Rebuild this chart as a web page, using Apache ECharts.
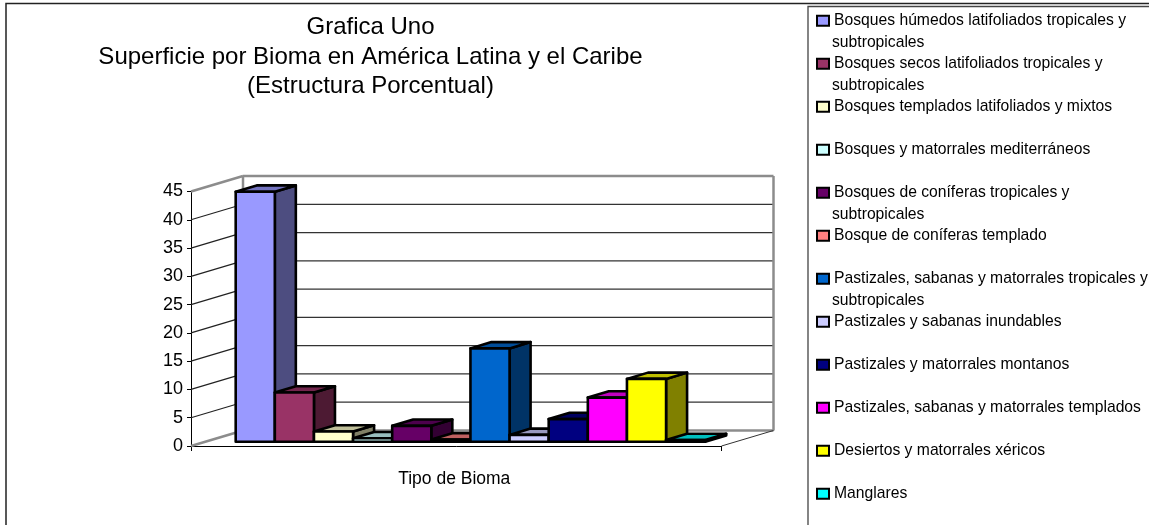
<!DOCTYPE html>
<html>
<head>
<meta charset="utf-8">
<title>Superficie por Bioma</title>
<style>
  html, body { margin: 0; padding: 0; background: #fff; }
  #chart { width: 1149px; height: 525px; }
</style>
<script src="https://cdn.jsdelivr.net/npm/echarts@6/dist/echarts.min.js"></script>
</head>
<body>
<div id="chart"></div>
<script>
var titleLines = ['Grafica Uno', 'Superficie por Bioma en América Latina y el Caribe', '(Estructura Porcentual)']
var category = ['Tipo de Bioma']
var biomas = [
  ['Bosques húmedos latifoliados tropicales y', 'subtropicales'],
  ['Bosques secos latifoliados tropicales y', 'subtropicales'],
  ['Bosques templados latifoliados y mixtos'],
  ['Bosques y matorrales mediterráneos'],
  ['Bosques de coníferas tropicales y', 'subtropicales'],
  ['Bosque de coníferas templado'],
  ['Pastizales, sabanas y matorrales tropicales y', 'subtropicales'],
  ['Pastizales y sabanas inundables'],
  ['Pastizales y matorrales montanos'],
  ['Pastizales, sabanas y matorrales templados'],
  ['Desiertos y matorrales xéricos'],
  ['Manglares']
]
var valores = [44.2, 8.7, 1.8, 0.6, 2.8, 0.4, 16.5, 1.2, 4, 7.8, 11.1, 0.3]
var colores = ['#9999FF', '#993366', '#FFFFCC', '#CCFFFF', '#660066', '#FF8080', '#0066CC', '#CCCCFF', '#000080', '#FF00FF', '#FFFF00', '#00FFFF']
var yTicks = [0, 5, 10, 15, 20, 25, 30, 35, 40, 45]

// perspective of the 3d box, in px
var WALL_DX = 52
var WALL_DY = 15.5
var BAR_DX = 21
var BAR_DY = 6.3
var BAR_FRONT_DX = 14.2
var BAR_FRONT_DY = 4.3
var BAND_PAD = 30.5

function nombre(i) {
  return biomas[i].join(' ')
}

// darken a #rrggbb color by a factor
function shade(hex, f) {
  var n = parseInt(hex.slice(1), 16)
  var r = Math.round((n >> 16 & 255) * f)
  var g = Math.round((n >> 8 & 255) * f)
  var b = Math.round((n & 255) * f)
  return 'rgb(' + r + ',' + g + ',' + b + ')'
}

function poly(points, fill, stroke, lineWidth) {
  return {
    type: 'polygon',
    shape: { points: points },
    style: { fill: fill, stroke: stroke, lineWidth: lineWidth, lineJoin: 'round' }
  }
}

function line(x1, y1, x2, y2, color, width) {
  return {
    type: 'line',
    shape: { x1: x1, y1: y1, x2: x2, y2: y2 },
    style: { stroke: color, lineWidth: width }
  }
}

// back wall, left wall and floor, drawn behind the bars
function renderWalls(params, api) {
  var y0 = api.coord([0, 0])
  var bandW = api.size([1, 0])[0]
  var left = y0[0] - bandW / 2
  var right = y0[0] + bandW / 2
  var children = []
  yTicks.forEach(function (t) {
    var y = api.coord([0, t])[1]
    var edge = t === 0 || t === 45
    children.push(line(left, y, left + WALL_DX, y - WALL_DY, edge ? '#8c8c8c' : '#222', edge ? 2.5 : 1.2))
    children.push(line(left + WALL_DX, y - WALL_DY, right + WALL_DX, y - WALL_DY, edge ? '#8c8c8c' : '#333', edge ? 2.5 : 1.2))
  })
  var top = api.coord([0, 45])[1] - WALL_DY
  var bottom = y0[1] - WALL_DY
  children.push(line(left + WALL_DX, top, left + WALL_DX, bottom, '#8c8c8c', 2.5))
  children.push(line(right + WALL_DX, top, right + WALL_DX, bottom, '#8c8c8c', 2.5))
  children.push(line(right, y0[1], right + WALL_DX, bottom, '#333', 1))
  return { type: 'group', children: children }
}

function renderBar(idx) {
  return function (params, api) {
    var base = api.coord([0, 0])
    var bandW = api.size([1, 0])[0]
    var barW = (bandW - 2 * BAND_PAD) / valores.length
    var x0 = base[0] - bandW / 2 + BAR_FRONT_DX + BAND_PAD + barW * idx
    var x1 = x0 + barW
    var yb = base[1] - BAR_FRONT_DY
    var yt = api.coord([0, api.value(1)])[1] - BAR_FRONT_DY
    var c = colores[idx]
    return {
      type: 'group',
      children: [
        poly([[x1, yb], [x1 + BAR_DX, yb - BAR_DY], [x1 + BAR_DX, yt - BAR_DY], [x1, yt]], shade(c, 0.5), '#000', 2.6),
        poly([[x0, yt], [x1, yt], [x1 + BAR_DX, yt - BAR_DY], [x0 + BAR_DX, yt - BAR_DY]], shade(c, 0.75), '#000', 2.6),
        poly([[x0, yb], [x1, yb], [x1, yt], [x0, yt]], c, '#000', 2.6)
      ]
    }
  }
}

var series = [{
  type: 'custom',
  name: 'paredes',
  silent: true,
  data: [[0, 0]],
  encode: { x: 0, y: 1 },
  renderItem: renderWalls
}]
valores.forEach(function (v, i) {
  series.push({
    type: 'custom',
    name: nombre(i),
    silent: true,
    itemStyle: { color: colores[i] },
    data: [[0, v]],
    encode: { x: 0, y: 1 },
    renderItem: renderBar(i)
  })
})

// legend swatch and wrapped text go through rich text, so the swatch stays on the first line
var legendRich = {
  t: { fontFamily: 'Liberation Sans', fontSize: 15.7, lineHeight: 21.5, color: '#000', padding: [0, 0, 0, 6] },
  t2: { fontFamily: 'Liberation Sans', fontSize: 15.7, lineHeight: 21.5, color: '#000', padding: [0, 0, 0, 14] }
}
colores.forEach(function (c, i) {
  legendRich['s' + i] = { width: 10, height: 8, backgroundColor: c, borderColor: '#000', borderWidth: 2, lineHeight: 21.5 }
})

var chart = echarts.init(document.getElementById('chart'), null, { renderer: 'canvas' })
chart.setOption({
  animation: false,
  backgroundColor: '#fff',
  textStyle: { fontFamily: 'Liberation Sans' },
  title: {
    text: titleLines.join('\n'),
    left: 365.5,
    top: 8,
    textAlign: 'center',
    textStyle: { fontSize: 24, fontWeight: 'normal', color: '#000', lineHeight: 29.5 }
  },
  legend: {
    orient: 'vertical',
    left: 813,
    top: 10,
    height: 600, // keeps the last item in this column, its blank second line runs past the page
    padding: 0,
    itemGap: 0,
    itemWidth: 0,
    itemHeight: 0,
    icon: 'none',
    selectedMode: false,
    data: biomas.map(function (b, i) { return nombre(i) }),
    formatter: function (name) {
      var i = biomas.findIndex(function (b) { return b.join(' ') === name })
      return '{s' + i + '|}{t|' + biomas[i][0] + '}\n{t2|' + (biomas[i][1] || ' ') + '}'
    },
    textStyle: { rich: legendRich, fontSize: 15.7, lineHeight: 21.5 }
  },
  grid: { left: 191, top: 191.5, width: 530.5, height: 254.5 },
  xAxis: {
    type: 'category',
    data: category,
    axisLine: { lineStyle: { color: '#000', width: 1 } },
    axisTick: { show: true, length: 5, lineStyle: { color: '#000' } },
    axisLabel: { fontSize: 17.5, color: '#000', margin: 24, padding: [0, 4, 0, 0] }
  },
  yAxis: {
    type: 'value',
    min: 0,
    max: 45,
    interval: 5,
    axisLine: { show: true, lineStyle: { color: '#000', width: 1 } },
    axisTick: { show: true, length: 4, lineStyle: { color: '#000' } },
    axisLabel: { fontSize: 18, color: '#000', margin: 8, padding: [2, 0, 0, 0] },
    splitLine: { show: false }
  },
  graphic: [
    { type: 'rect', silent: true, shape: { x: 6, y: 3.5, width: 1200, height: 530 }, style: { fill: 'none', stroke: '#222', lineWidth: 1.5 } },
    { type: 'rect', silent: true, shape: { x: 808, y: 6.5, width: 400, height: 530 }, style: { fill: 'none', stroke: '#444', lineWidth: 1.3 } }
  ],
  series: series
})
</script>
</body>
</html>
